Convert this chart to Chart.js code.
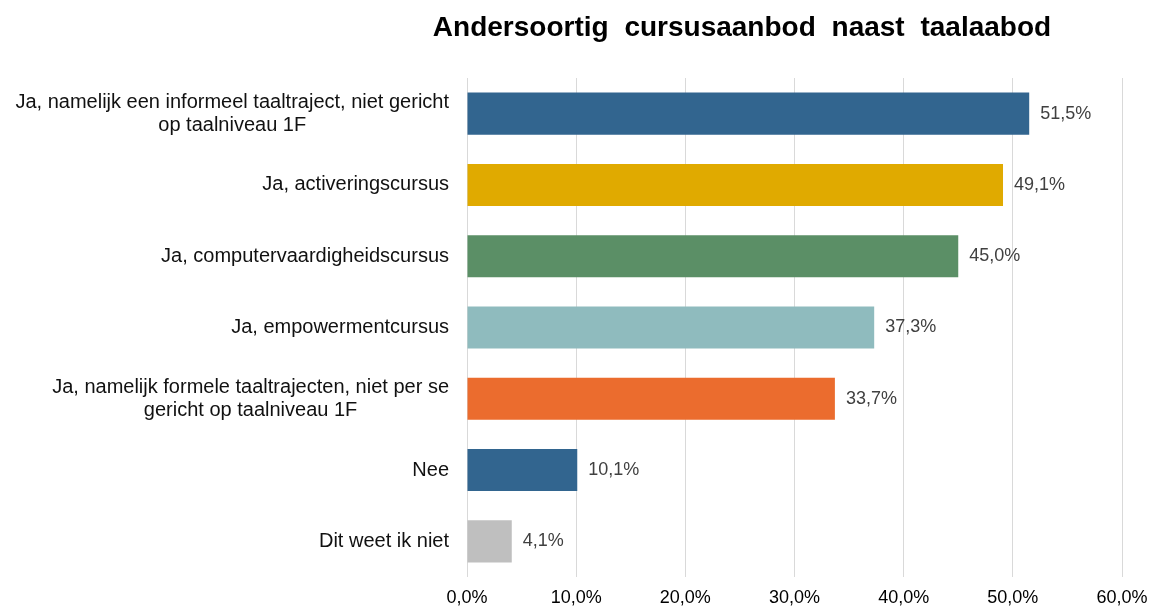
<!DOCTYPE html>
<html>
<head>
<meta charset="utf-8">
<script src="https://cdn.jsdelivr.net/npm/chart.js@4.4.1/dist/chart.umd.min.js"></script>
<style>
html,body{margin:0;padding:0;background:#fff;}
#wrap{width:1156px;height:607px;position:relative;}
</style>
</head>
<body>
<div id="wrap"><canvas id="c" width="1156" height="607"></canvas></div>
<script>
const titleText = "Andersoortig cursusaanbod naast taalaabod";
const categories = [
  ["Ja, namelijk een informeel taaltraject, niet gericht", "op taalniveau 1F"],
  ["Ja, activeringscursus"],
  ["Ja, computervaardigheidscursus"],
  ["Ja, empowermentcursus"],
  ["Ja, namelijk formele taaltrajecten, niet per se", "gericht op taalniveau 1F"],
  ["Nee"],
  ["Dit weet ik niet"]
];
const values = [51.5, 49.1, 45.0, 37.3, 33.7, 10.1, 4.1];
const barColors = ["#32658F", "#E0AA00", "#5B8F66", "#8FBBBE", "#EB6C2E", "#32658F", "#BFBFBF"];
const xTicks = [0, 10, 20, 30, 40, 50, 60];

const FONT = "'Liberation Sans', Arial, sans-serif";
const fmt = v => v.toFixed(1).replace('.', ',') + '%';

const labelsPlugin = {
  id: 'customLabels',
  afterDraw(chart) {
    const ctx = chart.ctx;
    const area = chart.chartArea;
    const yScale = chart.scales.y;
    ctx.save();
    // title
    ctx.font = "bold 28px " + FONT;
    ctx.fillStyle = "#000";
    ctx.textAlign = "center";
    ctx.textBaseline = "alphabetic";
    try { ctx.wordSpacing = "8px"; } catch (e) {}
    ctx.fillText(titleText, 742, 36);
    try { ctx.wordSpacing = "0px"; } catch (e) {}
    // category labels
    ctx.font = "20px " + FONT;
    ctx.fillStyle = "#111";
    ctx.textBaseline = "middle";
    const right = area.left - 18;
    categories.forEach((lines, i) => {
      const yc = yScale.getPixelForValue(i);
      const lh = 23;
      const maxW = Math.max(...lines.map(l => ctx.measureText(l).width));
      const cx = right - maxW / 2;
      const y0 = yc - (lines.length - 1) * lh / 2;
      ctx.textAlign = "center";
      lines.forEach((l, j) => ctx.fillText(l, cx, y0 + j * lh));
    });
    // value labels
    ctx.font = "18px " + FONT;
    ctx.fillStyle = "#404040";
    ctx.textAlign = "left";
    const meta = chart.getDatasetMeta(0);
    meta.data.forEach((bar, i) => {
      ctx.fillText(fmt(values[i]), bar.x + 11, bar.y);
    });
    ctx.restore();
  }
};

new Chart(document.getElementById('c'), {
  type: 'bar',
  data: {
    labels: categories.map(c => c.join(' ')),
    datasets: [{
      data: values,
      backgroundColor: barColors,
      borderWidth: 0,
      categoryPercentage: 1,
      barPercentage: 0.59
    }]
  },
  options: {
    indexAxis: 'y',
    responsive: false,
    animation: false,
    layout: { padding: { left: 467, right: 34, top: 78, bottom: -12 } },
    plugins: { legend: { display: false }, tooltip: { enabled: false }, title: { display: false } },
    scales: {
      x: {
        min: 0, max: 60,
        afterBuildTicks(scale) { scale.ticks = xTicks.map(v => ({ value: v })); },
        afterFit(scale) { scale.paddingLeft = 0; scale.paddingRight = 0; },
        grid: { color: '#D9D9D9', drawTicks: false, lineWidth: 1 },
        border: { display: false },
        ticks: { color: '#000', font: { family: FONT, size: 18, lineHeight: 1 }, padding: 12, maxRotation: 0, callback: v => v.toFixed(1).replace('.', ',') + '%' }
      },
      y: {
        display: false
      }
    }
  },
  plugins: [labelsPlugin]
});
</script>
</body>
</html>
